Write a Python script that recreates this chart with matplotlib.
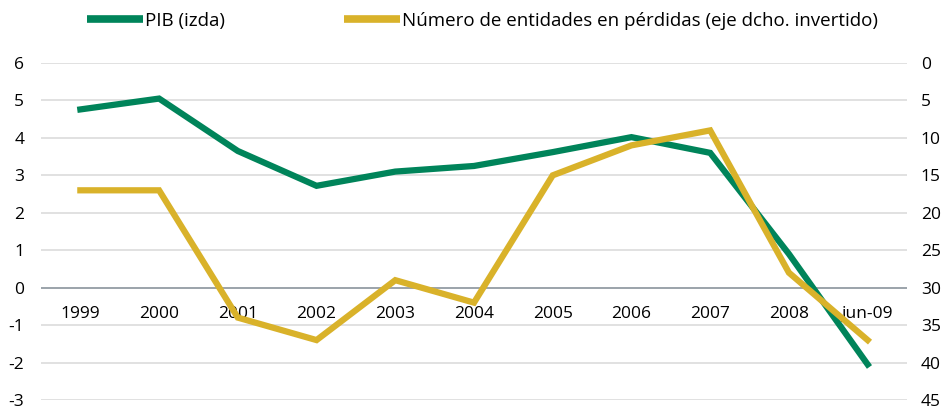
import matplotlib.pyplot as plt
from matplotlib.lines import Line2D

plt.rcParams['font.family'] = ['Open Sans', 'DejaVu Sans']
plt.rcParams['axes.unicode_minus'] = False

# Data
categories = ['1999', '2000', '2001', '2002', '2003', '2004', '2005', '2006', '2007', '2008', 'jun-09']
pib = [4.76, 5.05, 3.65, 2.72, 3.1, 3.25, 3.62, 4.02, 3.6, 0.9, -2.05]
entidades_perdidas = [17, 17, 34, 37, 29, 32, 15, 11, 9, 28, 37]

green = '#00845a'
yellow = '#d9b22a'

fig = plt.figure(figsize=(9.45, 4.12), dpi=100)
ax = fig.add_axes([41 / 945, 1 - 400 / 412, (907 - 41) / 945, (400 - 63) / 412])
ax2 = ax.twinx()

x = list(range(len(categories)))

# Grid lines
for v in range(-3, 7):
    ax.axhline(v, color='#8a949c' if v == 0 else '#dcdcdc', lw=1.2, zorder=0)

ax.plot(x, pib, color=green, lw=4.5, solid_joinstyle='miter', zorder=3)
ax2.plot(x, entidades_perdidas, color=yellow, lw=4.5, solid_joinstyle='miter', zorder=3)

ax.set_xlim(-0.5, len(categories) - 0.5)
ax.set_ylim(-3, 6)
ax.set_yticks(range(-3, 7))
ax2.set_ylim(45, 0)
ax2.set_yticks(range(0, 46, 5))

# Category labels sit just below the zero line
ax.spines['bottom'].set_position(('data', 0))
ax.set_xticks(x)
ax.set_xticklabels(categories)

for a in (ax, ax2):
    for s in a.spines.values():
        s.set_visible(False)
    a.tick_params(length=0, labelsize=12.5)

ax.tick_params(axis='x', pad=13)
ax.tick_params(axis='y', pad=12)
ax2.tick_params(axis='y', pad=10)

# Legend
h1 = Line2D([], [], color=green, lw=5.5, solid_capstyle='butt')
h2 = Line2D([], [], color=yellow, lw=5.5, solid_capstyle='butt')
kw = dict(frameon=False, fontsize=13.5, handlelength=3.0, handletextpad=0.1,
          borderpad=0, borderaxespad=0, loc='center left')
fig.legend([h1], ['PIB (izda)'], bbox_to_anchor=(87 / 945, 1 - 21 / 412), **kw)
fig.legend([h2], ['Número de entidades en pérdidas (eje dcho. invertido)'],
           bbox_to_anchor=(344 / 945, 1 - 21 / 412), **kw)

fig.savefig('out.png', dpi=100)
